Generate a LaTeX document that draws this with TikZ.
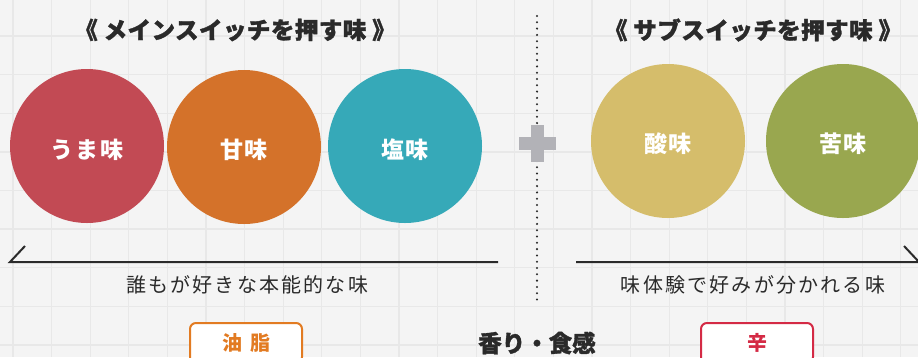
\documentclass[tikz,border=0pt]{standalone}
\usepackage{fontspec}
\setmainfont{Noto Sans CJK JP}
\newfontfamily\jp{Noto Sans CJK JP}
\definecolor{bgc}{HTML}{F4F4F4}
\definecolor{gridc}{HTML}{E8E8E8}
\definecolor{redc}{HTML}{C24A54}
\definecolor{orangec}{HTML}{D4722A}
\definecolor{tealc}{HTML}{36A9B8}
\definecolor{yellowc}{HTML}{D5BD6B}
\definecolor{greenc}{HTML}{99A74F}
\definecolor{plusc}{HTML}{B2B2B7}
\definecolor{inkc}{HTML}{2A2A2A}
\definecolor{oilc}{HTML}{E27B22}
\definecolor{hotc}{HTML}{D42A45}
\tikzset{
  blob/.style={circle, inner sep=0pt, minimum size=154pt},
  blobtext/.style={text=white, inner sep=0pt,
    font=\jp\bfseries\addfontfeature{LetterSpace=8}\fontsize{23}{23}\selectfont},
  heading/.style={text=inkc, inner sep=0pt,
    font=\jp\bfseries\addfontfeature{FakeBold=1.4,LetterSpace=2}\fontsize{23.5}{24}\selectfont},
  subtext/.style={text=inkc, inner sep=0pt,
    font=\jp\addfontfeature{LetterSpace=11}\fontsize{20}{20}\selectfont},
  tagbox/.style={draw, fill=white, line width=2pt, rounded corners=6pt,
    minimum width=112pt, minimum height=40pt, inner sep=0pt,
    font=\jp\bfseries\addfontfeature{LetterSpace=40}\fontsize{20}{20}\selectfont},
  axisline/.style={draw=inkc, line width=2pt},
  dotline/.style={draw=inkc, line width=2.3pt, line cap=round, dash pattern=on 0pt off 6.3pt},
}
\begin{document}
\begin{tikzpicture}[x=1pt,y=-1pt]
\useasboundingbox (0,0) rectangle (918,357);
\clip (0,0) rectangle (918,357);
\fill[bgc] (0,0) rectangle (918,357);
\foreach \gx in {13,51.6,...,918} \draw[gridc, line width=1.3pt] (\gx,0) -- (\gx,357);
\foreach \gy in {-2.5,36.1,...,357} \draw[gridc, line width=1.3pt] (0,\gy) -- (918,\gy);

% dotted divider
\coordinate (dtop) at (537,16);
\coordinate (dbot) at (537,300);
\draw[dotline] (dtop) -- (dbot);

% titles
\node[heading] (maint) at (235,30) {《 メインスイッチを押す味 》};
\node[heading] (subt) at (753,30) {《 サブスイッチを押す味 》};

% circles
\node[blob, fill=redc] (umami) at (87,146) {};
\node[blob, fill=orangec] (sweet) at (244,147) {};
\node[blob, fill=tealc] (salt) at (405,146) {};
\node[blob, fill=yellowc] (sour) at (668,141) {};
\node[blob, fill=greenc] (bitter) at (843,141) {};
\node[blobtext] (umamit) at ([yshift=-4pt]umami.center) {うま味};
\node[blobtext] (sweett) at ([yshift=-3pt]sweet.center) {甘味};
\node[blobtext] (saltt) at ([yshift=-4pt]salt.center) {塩味};
\node[blobtext] (sourt) at ([yshift=-3pt]sour.center) {酸味};
\node[blobtext] (bittert) at ([yshift=-3pt]bitter.center) {苦味};

% plus sign
\fill[plusc] (519,137) rectangle (556,150);
\fill[plusc] (531,125) rectangle (544,162);

% axis lines
\coordinate (ltick) at (25,246);
\coordinate (lstart) at (10,262);
\coordinate (lend) at (498,262);
\draw[axisline] (ltick) -- (lstart) -- (lend);
\coordinate (rstart) at (576,262);
\coordinate (rend) at (919,262);
\coordinate (rtick) at (904,246);
\draw[axisline] (rstart) -- (rend) -- (rtick);

% subtitles
\node[subtext] (lsub) at (247,285) {誰もが好きな本能的な味};
\node[subtext] (rsub) at (753,285) {味体験で好みが分かれる味};

% bottom tags
\node[tagbox, draw=oilc, text=oilc] (oil) at (246,343) {油脂};
\node[text=inkc, inner sep=0pt,
  font=\jp\bfseries\addfontfeature{FakeBold=1.4}\fontsize{23.5}{24}\selectfont] (aroma) at (537,343) {香り・食感};
\node[tagbox, draw=hotc, text=hotc] (hot) at (757,343) {辛};
\end{tikzpicture}
\end{document}
